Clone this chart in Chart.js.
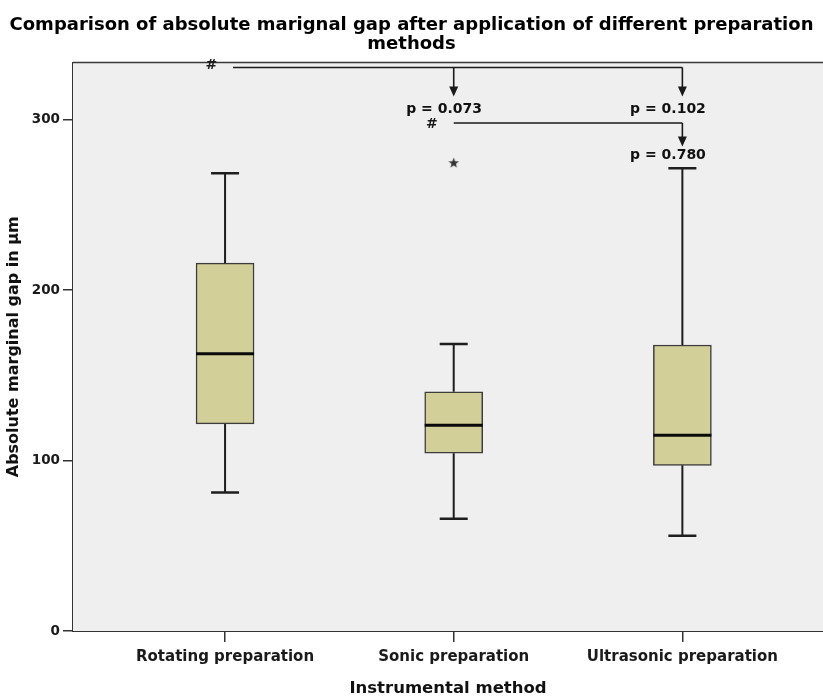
<!DOCTYPE html>
<html>
<head>
<meta charset="utf-8">
<script src="https://cdn.jsdelivr.net/npm/chart.js@4.4.1/dist/chart.umd.min.js"></script>
<style>
  html, body { margin: 0; padding: 0; background: #ffffff; overflow: hidden; }
  #wrap { width: 823px; height: 697px; position: relative; }
  canvas { display: block; }
</style>
</head>
<body>
<div id="wrap"><canvas id="c"></canvas></div>
<script>
// ---- data ----
const categories = ['Rotating preparation', 'Sonic preparation', 'Ultrasonic preparation'];
const whiskerLow  = [81.2, 65.9, 55.9];
const q1          = [121.5, 104.3, 97.2];
const median      = [162.6, 120.7, 114.8];
const q3          = [215.8, 140.3, 167.8];
const whiskerHigh = [268.6, 168.4, 271.5];
const outlierCat  = [1];
const outlierVal  = [274.8];
const yTicks      = [0, 100, 200, 300];

// significance annotations (data units)
const pLabels     = ['p = 0.073', 'p = 0.102', 'p = 0.780'];
const pLabelX     = [0.958, 1.937, 1.937];
const pLabelY     = [305.8, 305.8, 279.0];
const bracketStart = [0.035, 1.0];
const bracketY     = [330.6, 298.0];
const bracketTargets = [[1, 2], [2]];
const arrowTipY    = [313.6, 284.2];
const hashX        = [-0.06, 0.904];
const hashY        = [331.6, 297.0];

const FONT = "'DejaVu Sans', 'Liberation Sans', Arial, sans-serif";

// star marker for outliers
function makeStar(size, color) {
  const cv = document.createElement('canvas');
  cv.width = size; cv.height = size;
  const g = cv.getContext('2d');
  const cx = size / 2, cy = size / 2 + 0.5, R = size / 2, r = R * 0.42;
  g.beginPath();
  for (let i = 0; i < 10; i++) {
    const a = -Math.PI / 2 + i * Math.PI / 5;
    const rad = i % 2 === 0 ? R : r;
    const px = cx + rad * Math.cos(a), py = cy + rad * Math.sin(a);
    if (i === 0) g.moveTo(px, py); else g.lineTo(px, py);
  }
  g.closePath();
  g.fillStyle = color; g.fill();
  return cv;
}
const starImg = makeStar(11, '#333');

const boxPlugin = {
  id: 'boxExtras',
  beforeDatasetsDraw(chart) {
    const {ctx, chartArea: a} = chart;
    ctx.save();
    ctx.fillStyle = '#efefef';
    ctx.fillRect(a.left, a.top, a.right - a.left, a.bottom - a.top);
    ctx.restore();
  },
  afterDatasetsDraw(chart) {
    const {ctx, chartArea: a} = chart;
    const xs = chart.scales.x, ys = chart.scales.y;
    const meta = chart.getDatasetMeta(0);
    ctx.save();
    ctx.strokeStyle = '#1e1e1e';
    ctx.lineCap = 'butt';
    categories.forEach((c, i) => {
      const x = xs.getPixelForValue(i);
      const bar = meta.data[i];
      const half = bar ? bar.width / 2 : 29;
      const capHalf = 14;
      ctx.lineWidth = 2;
      ctx.beginPath();
      ctx.moveTo(x, ys.getPixelForValue(q3[i]));
      ctx.lineTo(x, ys.getPixelForValue(whiskerHigh[i]));
      ctx.moveTo(x, ys.getPixelForValue(q1[i]));
      ctx.lineTo(x, ys.getPixelForValue(whiskerLow[i]));
      ctx.stroke();
      ctx.lineWidth = 2.5;
      ctx.beginPath();
      ctx.moveTo(x - capHalf, ys.getPixelForValue(whiskerHigh[i]));
      ctx.lineTo(x + capHalf, ys.getPixelForValue(whiskerHigh[i]));
      ctx.moveTo(x - capHalf, ys.getPixelForValue(whiskerLow[i]));
      ctx.lineTo(x + capHalf, ys.getPixelForValue(whiskerLow[i]));
      ctx.stroke();
      ctx.strokeStyle = '#0a0a0a';
      ctx.lineWidth = 3;
      ctx.beginPath();
      ctx.moveTo(x - half, ys.getPixelForValue(median[i]));
      ctx.lineTo(x + half, ys.getPixelForValue(median[i]));
      ctx.stroke();
      ctx.strokeStyle = '#1e1e1e';
    });
    ctx.strokeStyle = '#3a3a3a';
    ctx.lineWidth = 1.5;
    ctx.beginPath();
    ctx.moveTo(a.left, a.top);
    ctx.lineTo(a.right, a.top);
    ctx.stroke();
    ctx.restore();
  },
  afterDraw(chart) {
    const {ctx} = chart;
    const xs = chart.scales.x, ys = chart.scales.y;
    ctx.save();
    ctx.strokeStyle = '#1a1a1a';
    ctx.fillStyle = '#1a1a1a';
    ctx.lineWidth = 1.6;
    bracketStart.forEach((sx, k) => {
      const y = ys.getPixelForValue(bracketY[k]);
      const targets = bracketTargets[k];
      const endX = xs.getPixelForValue(Math.max(...targets));
      ctx.beginPath();
      ctx.moveTo(xs.getPixelForValue(sx), y);
      ctx.lineTo(endX, y);
      ctx.stroke();
      targets.forEach(t => {
        const tx = xs.getPixelForValue(t);
        const tip = ys.getPixelForValue(arrowTipY[k]);
        ctx.beginPath();
        ctx.moveTo(tx, y);
        ctx.lineTo(tx, tip - 8);
        ctx.stroke();
        ctx.beginPath();
        ctx.moveTo(tx - 4.5, tip - 10);
        ctx.lineTo(tx + 4.5, tip - 10);
        ctx.lineTo(tx, tip);
        ctx.closePath();
        ctx.fill();
      });
      ctx.font = "bold 14px " + FONT;
      ctx.textAlign = 'center';
      ctx.textBaseline = 'middle';
      ctx.fillText('#', xs.getPixelForValue(hashX[k]), ys.getPixelForValue(hashY[k]));
    });
    ctx.fillStyle = '#111';
    ctx.font = "bold 14px " + FONT;
    ctx.textAlign = 'center';
    ctx.textBaseline = 'middle';
    pLabels.forEach((t, i) => {
      ctx.fillText(t, xs.getPixelForValue(pLabelX[i]), ys.getPixelForValue(pLabelY[i]));
    });
    ctx.restore();
  }
};

new Chart(document.getElementById('c'), {
  type: 'bar',
  data: {
    datasets: [
      {
        type: 'bar',
        data: categories.map((c, i) => ({x: i, y: [q1[i], q3[i]]})),
        backgroundColor: '#d3cf98',
        borderColor: '#3c3c3c',
        borderWidth: 1.5,
        borderSkipped: false,
        barThickness: 58
      },
      {
        type: 'scatter',
        data: outlierCat.map((c, i) => ({x: c, y: outlierVal[i]})),
        pointStyle: starImg,
        pointRadius: 6
      }
    ]
  },
  options: {
    responsive: true,
    maintainAspectRatio: false,
    animation: false,
    layout: { padding: 0, autoPadding: false },
    plugins: {
      legend: { display: false },
      tooltip: { enabled: false },
      title: {
        display: true,
        text: ['Comparison of absolute marignal gap after application of different preparation', 'methods'],
        color: '#000',
        font: { family: FONT, size: 18, weight: 'bold', lineHeight: 1.05 },
        padding: { top: 15.5, bottom: 9.2 }
      }
    },
    scales: {
      x: {
        type: 'linear',
        min: -0.665,
        max: 2.615,
        offset: false,
        afterFit: s => { s.height = 66; s.paddingLeft = 0; s.paddingRight = 0; },
        afterBuildTicks: s => { s.ticks = [0, 1, 2].map(v => ({value: v})); },
        ticks: {
          autoSkip: false,
          maxRotation: 0,
          padding: 6,
          color: '#1a1a1a',
          font: { family: FONT, size: 15, weight: 'bold' },
          callback: v => categories[v]
        },
        grid: { offset: false, drawOnChartArea: false, drawTicks: true, tickLength: 11, color: '#333', lineWidth: 1.5 },
        border: { display: true, color: '#333', width: 2 },
        title: {
          display: true,
          text: 'Instrumental method',
          color: '#111',
          font: { family: FONT, size: 16.5, weight: 'bold', lineHeight: 1.0 },
          padding: 0
        }
      },
      y: {
        min: 0,
        max: 333.5,
        afterFit: s => { s.width = 73; s.paddingTop = 0; s.paddingBottom = 0; },
        afterBuildTicks: s => { s.ticks = yTicks.map(v => ({value: v})); },
        ticks: {
          padding: 3,
          color: '#1a1a1a',
          font: { family: FONT, size: 13.5, weight: 'bold' }
        },
        grid: { drawOnChartArea: false, drawTicks: true, tickLength: 10, color: '#333', lineWidth: 1.5 },
        border: { display: true, color: '#333', width: 2 },
        title: {
          display: true,
          text: 'Absolute marginal gap in µm',
          color: '#111',
          font: { family: FONT, size: 16, weight: 'bold', lineHeight: 1.0 },
          padding: { top: 5.5, bottom: 0 }
        }
      }
    }
  },
  plugins: [boxPlugin]
});
</script>
</body>
</html>
